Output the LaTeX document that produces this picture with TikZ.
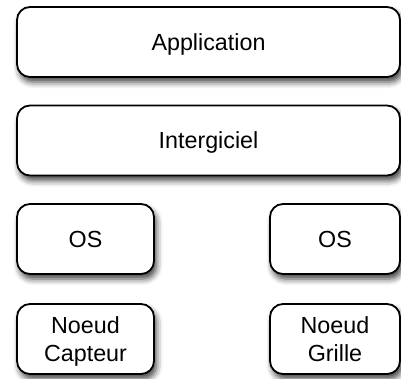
\documentclass[tikz,border=0pt]{standalone}
\usepackage{fontspec}
\setmainfont{Liberation Sans}
\usetikzlibrary{shadows.blur}
\newcommand{\nodesc}[1]{\raisebox{0pt}[\height][0pt]{#1}}
\begin{document}
\begin{tikzpicture}[x=1pt,y=-1pt,
  layer/.style={draw=black, line width=1.8pt, rounded corners=13pt, fill=white,
    blur shadow={shadow xshift=2.5pt, shadow yshift=-5pt, shadow blur radius=6pt, shadow opacity=75},
    align=center, inner sep=0pt, font=\fontsize{23.3}{28}\selectfont},
  oneline/.style={layer, text height=16.7pt, text depth=0pt}]
\useasboundingbox (0,0) rectangle (401,378);
\node[oneline, minimum width=383pt, minimum height=70pt] (app) at (208.5,42) {Application};
\node[oneline, minimum width=383pt, minimum height=70pt] (mid) at (208.5,140.5) {Intergiciel};
\node[oneline, minimum width=137pt, minimum height=70pt] (os1) at (85.5,239) {OS};
\node[oneline, minimum width=130pt, minimum height=70pt] (os2) at (335,239) {OS};
\node[layer, minimum width=137pt, minimum height=70pt] (n1) at (85.5,339) {Noeud\\\nodesc{Capteur}};
\node[layer, minimum width=130pt, minimum height=70pt] (n2) at (335,339) {Noeud\\\nodesc{Grille}};
\end{tikzpicture}
\end{document}
